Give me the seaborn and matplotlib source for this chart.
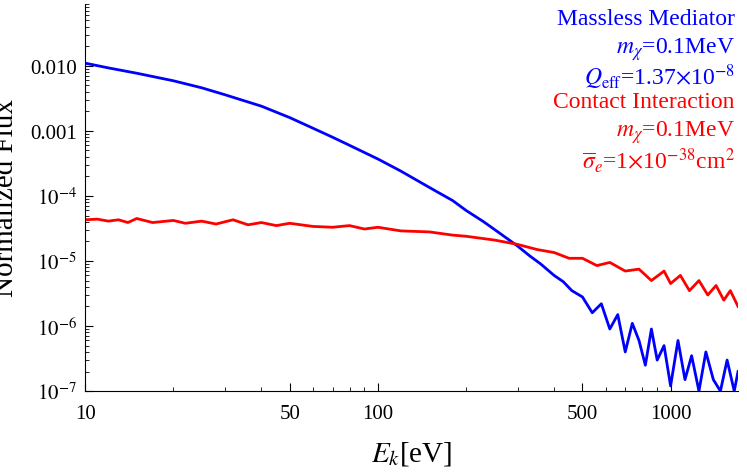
import matplotlib
matplotlib.use("Agg")
import matplotlib.pyplot as plt
import seaborn as sns
import pandas as pd

# Energies (eV) and fluxes
blue_e = [10, 12, 15, 20, 25, 30, 40, 50, 60, 70, 80, 100, 120, 150, 180, 200, 230, 260,
          300, 330, 360, 400, 430, 460, 500, 540, 580, 620, 660, 700, 740, 780, 820, 860,
          900, 950, 1000, 1060, 1120, 1180, 1250, 1320, 1400, 1480, 1560, 1650, 1700]
blue_f = [1.1e-2, 9.3e-3, 7.7e-3, 5.9e-3, 4.6e-3, 3.6e-3, 2.4e-3, 1.6e-3, 1.1e-3, 8.0e-4,
          6.0e-4, 3.7e-4, 2.4e-4, 1.35e-4, 8.5e-5, 6.0e-5, 4.0e-5, 2.7e-5, 1.7e-5, 1.2e-5,
          9.0e-6, 6.0e-6, 4.8e-6, 3.5e-6, 2.8e-6, 1.6e-6, 2.2e-6, 9.0e-7, 1.5e-6, 4.0e-7,
          1.1e-6, 6.0e-7, 2.5e-7, 9.0e-7, 3.0e-7, 5.0e-7, 1.2e-7, 6.0e-7, 1.5e-7, 3.5e-7,
          1.0e-7, 4.0e-7, 1.5e-7, 1.0e-7, 3.0e-7, 1.0e-7, 2.0e-7]
red_e = [10, 11, 12, 13, 14, 15, 17, 20, 22, 25, 28, 32, 36, 40, 45, 50, 60, 70, 80, 90,
         100, 120, 150, 180, 200, 250, 300, 350, 400, 450, 500, 560, 620, 700, 780, 860,
         950, 1000, 1080, 1160, 1250, 1340, 1430, 1520, 1600, 1700]
red_f = [4.3e-5, 4.4e-5, 4.1e-5, 4.3e-5, 3.9e-5, 4.5e-5, 3.9e-5, 4.2e-5, 3.8e-5, 4.1e-5,
         3.7e-5, 4.3e-5, 3.6e-5, 3.9e-5, 3.5e-5, 3.8e-5, 3.4e-5, 3.3e-5, 3.5e-5, 3.1e-5,
         3.3e-5, 2.9e-5, 2.8e-5, 2.5e-5, 2.4e-5, 2.1e-5, 1.8e-5, 1.5e-5, 1.35e-5, 1.1e-5,
         1.1e-5, 8.5e-6, 9.5e-6, 7.0e-6, 7.5e-6, 5.0e-6, 7.0e-6, 4.5e-6, 6.0e-6, 3.5e-6,
         5.0e-6, 3.0e-6, 4.2e-6, 2.5e-6, 3.5e-6, 2.0e-6]

blue = pd.DataFrame({"E": blue_e, "flux": blue_f})
red = pd.DataFrame({"E": red_e, "flux": red_f})

plt.rcParams["font.family"] = "Liberation Serif"
plt.rcParams["mathtext.fontset"] = "stix"

fig, ax = plt.subplots(figsize=(7.47, 4.77), dpi=100)
sns.lineplot(data=blue, x="E", y="flux", color="#0000ff", lw=2, ax=ax)
sns.lineplot(data=red, x="E", y="flux", color="#ff0000", lw=2, ax=ax)
ax.set_xscale("log")
ax.set_yscale("log")
ax.set_xlim(10, 1700)
ax.set_ylim(1e-7, 0.09)
ax.set_xticks([10, 50, 100, 500, 1000])
ax.set_xticklabels(["10", "50", "100", "500", "1000"])
ax.set_yticks([1e-7, 1e-6, 1e-5, 1e-4, 1e-3, 1e-2])
ax.set_yticklabels([r"$10^{-7}$", r"$10^{-6}$", r"$10^{-5}$", r"$10^{-4}$", "0.001", "0.010"])
ax.tick_params(which="both", direction="in", labelsize=15)
ax.tick_params(axis="x", pad=9)
ax.tick_params(axis="y", pad=6)
ax.tick_params(which="major", length=6)
ax.tick_params(which="minor", length=3)
for s in ["top", "right"]:
    ax.spines[s].set_visible(False)
ax.set_xlabel(r"$E_k$[eV]", fontsize=21, labelpad=12)
ax.set_ylabel("Normalized Flux", fontsize=21, labelpad=8)

kw = dict(transform=ax.transAxes, ha="right", va="top", fontsize=17)
ax.text(0.995, 0.99, "Massless Mediator", color="#0000ff", **kw)
ax.text(0.995, 0.92, r"$m_\chi$=0.1MeV", color="#0000ff", **kw)
ax.text(0.995, 0.85, r"$Q_{\rm eff}$=1.37$\times$10$^{-8}$", color="#0000ff", **kw)
ax.text(0.995, 0.775, "Contact Interaction", color="#ff0000", **kw)
ax.text(0.995, 0.705, r"$m_\chi$=0.1MeV", color="#ff0000", **kw)
ax.text(0.995, 0.635, r"$\overline{\sigma}_e$=1$\times$10$^{-38}$cm$^2$", color="#ff0000", **kw)

plt.subplots_adjust(left=0.114, right=0.988, top=0.99, bottom=0.178)
plt.savefig("out.png")
